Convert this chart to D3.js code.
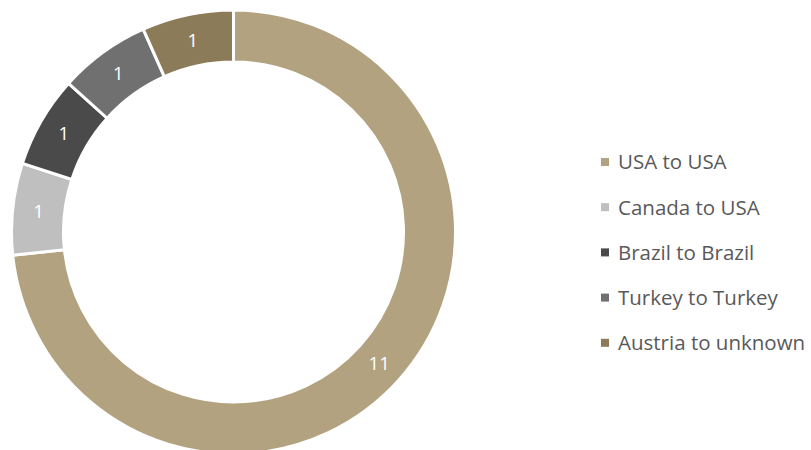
<!DOCTYPE html>
<html>
<head>
<meta charset="utf-8">
<script src="https://cdn.jsdelivr.net/npm/d3@7"></script>
<style>
  html, body { margin: 0; padding: 0; background: #fff; }
  svg { display: block; }
</style>
</head>
<body>
<svg id="chart" width="811" height="450"></svg>
<script>
// Routes and their counts
const categories = ["USA to USA", "Canada to USA", "Brazil to Brazil", "Turkey to Turkey", "Austria to unknown"];
const counts = [11, 1, 1, 1, 1];
const colors = ["#B2A27F", "#BFBFBF", "#4A4A4A", "#707070", "#8C7B58"];

const svg = d3.select("#chart");
const cx = 233.5, cy = 232;
const outerR = 222, innerR = 170, labelR = 196;
const font = "'Open Sans', sans-serif";

const data = categories.map((c, i) => ({ name: c, value: counts[i], color: colors[i] }));

const pie = d3.pie().sort(null).value(d => d.value);
const arc = d3.arc().innerRadius(innerR).outerRadius(outerR);
const labelArc = d3.arc().innerRadius(labelR).outerRadius(labelR);

const g = svg.append("g").attr("transform", `translate(${cx},${cy})`);
const arcs = pie(data);

g.selectAll("path.slice")
  .data(arcs)
  .join("path")
  .attr("class", "slice")
  .attr("d", arc)
  .attr("fill", d => d.data.color)
  .attr("stroke", "#fff")
  .attr("stroke-width", 3)
  .attr("stroke-linejoin", "miter");

g.selectAll("text.val")
  .data(arcs)
  .join("text")
  .attr("class", "val")
  .attr("transform", d => `translate(${labelArc.centroid(d)})`)
  .attr("text-anchor", "middle")
  .attr("dy", "0.35em")
  .attr("fill", "#fff")
  .style("font-family", font)
  .style("font-size", "18.5px")
  .text(d => d.data.value);

// Legend
const legend = svg.append("g").attr("transform", "translate(601,162)");
const rowH = 45.2;
const items = legend.selectAll("g.item")
  .data(data)
  .join("g")
  .attr("class", "item")
  .attr("transform", (d, i) => `translate(0,${i * rowH})`);

items.append("rect")
  .attr("x", 0).attr("y", -4)
  .attr("width", 8).attr("height", 8)
  .attr("fill", d => d.color);

items.append("text")
  .attr("x", 17)
  .attr("dy", "0.36em")
  .attr("fill", "#595959")
  .style("font-family", font)
  .style("font-size", "20.5px")
  .text(d => d.name);
</script>
</body>
</html>
